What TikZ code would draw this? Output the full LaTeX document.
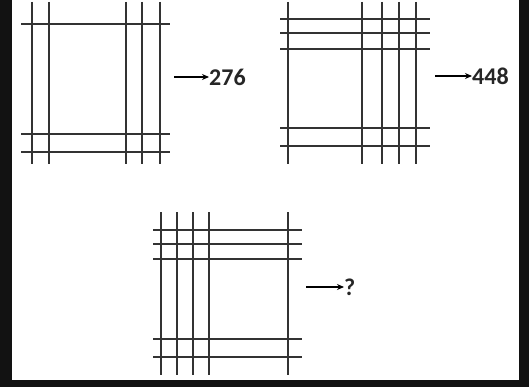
\documentclass[tikz,border=0pt]{standalone}
\usepackage{fontspec}
\setmainfont{Carlito}
\usetikzlibrary{arrows.meta}
\begin{document}
\begin{tikzpicture}[x=1pt,y=-1pt,
  grid/.style={line width=2pt,draw=black!80},
  arr/.style={line width=1.6pt,-{Stealth[length=7pt,width=6pt]}},
  lbl/.style={font=\fontsize{24}{24}\selectfont\bfseries,inner sep=0pt,anchor=west,text=black!85}]
\fill[white] (0,0) rectangle (529,387);
\fill[black!93] (0,0) rectangle (12,387);
\fill[black!93] (519,0) rectangle (529,387);
\fill[black!93] (0,380) rectangle (529,387);
\useasboundingbox (0,0) rectangle (529,387);
% figure 1
\foreach \x in {32,49,126,142,160} \draw[grid] (\x,2) -- (\x,164);
\foreach \y in {24,134,152} \draw[grid] (21,\y) -- (170,\y);
\coordinate (a1) at (174,77);
\node[lbl] (t1) at (209,77) {276};
\draw[arr] (a1) -- (t1.west);
% figure 2
\foreach \x in {288,362,382,399,416} \draw[grid] (\x,2) -- (\x,164);
\foreach \y in {19,33,49,128,146} \draw[grid] (280,\y) -- (430,\y);
\coordinate (a2) at (435,76);
\node[lbl] (t2) at (472,76) {448};
\draw[arr] (a2) -- (t2.west);
% figure 3
\foreach \x in {161,177,193,209,288} \draw[grid] (\x,212) -- (\x,375);
\foreach \y in {230,244,259,339,357} \draw[grid] (153,\y) -- (302,\y);
\coordinate (a3) at (306,287);
\node[lbl] (t3) at (344,287) {?};
\draw[arr] (a3) -- (t3.west);
\end{tikzpicture}
\end{document}
